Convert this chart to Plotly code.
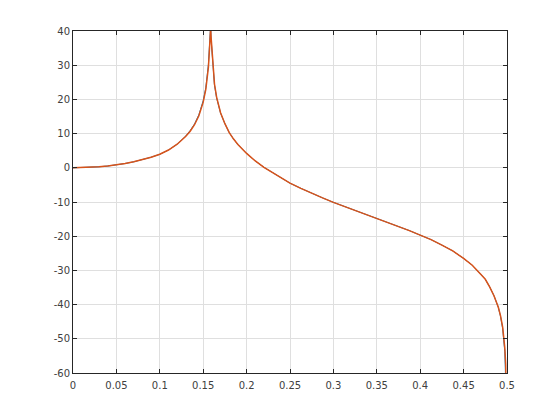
import plotly.graph_objects as go

# Normalized frequency (cycles/sample) and magnitude (dB)
freq_orange = [0.000, 0.010, 0.020, 0.030, 0.040, 0.050, 0.060, 0.070, 0.080, 0.090,
               0.100, 0.110, 0.120, 0.130, 0.135, 0.140, 0.145, 0.150, 0.153, 0.155,
               0.156, 0.157, 0.158, 0.1586, 0.159, 0.160, 0.161, 0.1617, 0.163, 0.1655,
               0.168, 0.170, 0.175, 0.180, 0.185, 0.190, 0.200, 0.210, 0.220, 0.230,
               0.240, 0.250, 0.2625, 0.275, 0.2875, 0.300, 0.3125, 0.325, 0.3375, 0.350,
               0.3625, 0.375, 0.3875, 0.400, 0.4125, 0.425, 0.4375, 0.450, 0.460, 0.470,
               0.475, 0.480, 0.485, 0.490, 0.4925, 0.495, 0.4965, 0.4975, 0.4985, 0.4992,
               0.4998]
mag_orange = [0.0, 0.03, 0.12, 0.3, 0.52, 0.85, 1.25, 1.75, 2.35, 3.1,
              3.95, 5.2, 6.9, 9.2, 10.7, 12.6, 15.2, 19.2, 22.9, 26.6,
              29.4, 33.8, 38.0, 41.0, 38.5, 34.1, 29.6, 27.4, 24.5, 20.6,
              17.7, 16.1, 12.9, 10.3, 8.4, 6.8, 4.2, 2.0, 0.15, -1.4,
              -2.9, -4.5, -6.0, -7.45, -8.8, -10.1, -11.25, -12.45, -13.55, -14.8,
              -15.9, -17.1, -18.36, -19.7, -21.0, -22.6, -24.3, -26.5, -28.5, -31.2,
              -32.6, -34.8, -37.4, -40.8, -43.2, -46.6, -49.8, -52.8, -57.5, -65.0,
              -80.0]

freq_blue = [0.000, 0.010, 0.020, 0.030, 0.040, 0.050, 0.060, 0.070, 0.080, 0.090,
             0.100, 0.110, 0.120, 0.130, 0.135, 0.140, 0.145, 0.150, 0.153, 0.155,
             0.156, 0.157, 0.158, 0.1586, 0.159, 0.160, 0.161, 0.1617, 0.163, 0.1655,
             0.168, 0.170, 0.175, 0.180, 0.185, 0.190, 0.200, 0.210, 0.220, 0.230,
             0.240, 0.250, 0.2625, 0.275, 0.2875, 0.300, 0.3125, 0.325, 0.3375, 0.350,
             0.3625, 0.375, 0.3875, 0.400, 0.4125, 0.425, 0.4375, 0.450, 0.460, 0.470,
             0.475, 0.480, 0.485, 0.490, 0.4925, 0.495, 0.4965, 0.4975, 0.4982, 0.4990,
             0.4998]
mag_blue = [0.0, 0.03, 0.12, 0.3, 0.52, 0.85, 1.25, 1.75, 2.35, 3.1,
            3.95, 5.2, 6.9, 9.3, 10.9, 12.8, 15.5, 19.6, 23.4, 27.4,
            30.2, 34.6, 38.8, 41.5, 38.0, 33.6, 29.2, 27.0, 24.2, 20.4,
            17.6, 16.0, 12.9, 10.3, 8.4, 6.8, 4.2, 2.0, 0.15, -1.4,
            -2.9, -4.5, -6.0, -7.45, -8.8, -10.1, -11.25, -12.45, -13.55, -14.8,
            -15.9, -17.1, -18.36, -19.7, -21.0, -22.6, -24.3, -26.5, -28.5, -31.2,
            -32.6, -34.8, -37.4, -40.8, -43.4, -47.0, -50.4, -53.8, -60.0, -70.0,
            -85.0]

x_ticks = [0, 0.05, 0.1, 0.15, 0.2, 0.25, 0.3, 0.35, 0.4, 0.45, 0.5]
x_labels = ["0", "0.05", "0.1", "0.15", "0.2", "0.25", "0.3", "0.35", "0.4", "0.45", "0.5"]
y_ticks = [-60, -50, -40, -30, -20, -10, 0, 10, 20, 30, 40]
y_labels = ["-60", "-50", "-40", "-30", "-20", "-10", "0", "10", "20", "30", "40"]

fig = go.Figure()
fig.add_trace(go.Scatter(x=freq_blue, y=mag_blue, mode="lines",
                         line=dict(color="#0072BD", width=1.0), showlegend=False))
fig.add_trace(go.Scatter(x=freq_orange, y=mag_orange, mode="lines",
                         line=dict(color="#D95319", width=1.5), showlegend=False))

axis_common = dict(
    showline=True, linecolor="#262626", linewidth=1, mirror="ticks",
    ticks="inside", ticklen=4, tickcolor="#262626",
    showgrid=True, gridcolor="#dfdfdf", gridwidth=1,
    zeroline=False,
    tickfont=dict(family="DejaVu Sans", size=10, color="#404040"),
)

fig.update_xaxes(range=[0, 0.5], tickvals=x_ticks, ticktext=x_labels,
                 ticklabelstandoff=3, **axis_common)
fig.update_yaxes(range=[-60, 40], tickvals=y_ticks, ticktext=y_labels, **axis_common)

fig.update_layout(
    width=544, height=404,
    margin=dict(l=65, r=45, t=23, b=39),
    paper_bgcolor="white", plot_bgcolor="white",
)

fig.write_html("out.html")
